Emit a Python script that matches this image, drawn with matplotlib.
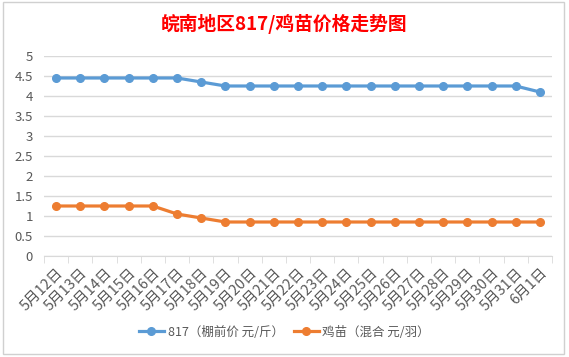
import numpy as np
import matplotlib.pyplot as plt
from matplotlib.patches import Rectangle

plt.rcParams['font.family'] = ['Noto Sans CJK SC', 'DejaVu Sans']

dates = ["5月12日", "5月13日", "5月14日", "5月15日", "5月16日", "5月17日", "5月18日",
         "5月19日", "5月20日", "5月21日", "5月22日", "5月23日", "5月24日", "5月25日",
         "5月26日", "5月27日", "5月28日", "5月29日", "5月30日", "5月31日", "6月1日"]
price_817 = [4.45, 4.45, 4.45, 4.45, 4.45, 4.45, 4.35, 4.25, 4.25, 4.25, 4.25,
             4.25, 4.25, 4.25, 4.25, 4.25, 4.25, 4.25, 4.25, 4.25, 4.1]
price_chick = [1.25, 1.25, 1.25, 1.25, 1.25, 1.05, 0.95, 0.85, 0.85, 0.85, 0.85,
               0.85, 0.85, 0.85, 0.85, 0.85, 0.85, 0.85, 0.85, 0.85, 0.85]
yticks = [0, 0.5, 1, 1.5, 2, 2.5, 3, 3.5, 4, 4.5, 5]

W, H = 569, 357
fig = plt.figure(figsize=(W / 100, H / 100), dpi=100)

# chart frame (excel chart border)
fig.patches.append(Rectangle((3 / W, 1 - 354 / H), 561 / W, 352 / H, transform=fig.transFigure,
                             fill=False, edgecolor='#d0d0d0', linewidth=1))

ax = fig.add_axes([44 / W, 1 - 256 / H, 508 / W, 200 / H])
x = np.arange(len(dates))
ax.plot(x, price_817, color='#5B9BD5', linewidth=2.3, marker='o', markersize=5.5,
        label='817（棚前价 元/斤）')
ax.plot(x, price_chick, color='#ED7D31', linewidth=2.3, marker='o', markersize=5.5,
        label='鸡苗（混合 元/羽）')

ax.set_xlim(-0.5, len(dates) - 0.5)
ax.set_ylim(0, 5)
ax.set_yticks(yticks)
ax.set_yticklabels([f"{v:g}" for v in yticks])
ax.grid(axis='y', color='#d9d9d9', linewidth=1)
ax.set_axisbelow(True)
for s in ['top', 'right', 'left']:
    ax.spines[s].set_visible(False)
ax.spines['bottom'].set_color('#d9d9d9')
ax.tick_params(axis='y', length=0, labelsize=9.5, labelcolor='#595959', pad=8)
ax.set_xticks(x)
ax.set_xticklabels(dates, rotation=45, ha='right', rotation_mode='anchor')
ax.tick_params(axis='x', which='major', length=0, labelsize=10.5, labelcolor='#595959', pad=7)
ax.set_xticks(np.arange(-0.5, len(dates), 1), minor=True)
ax.tick_params(axis='x', which='minor', length=5, color='#d9d9d9')

fig.text(0.5, 1 - 24 / H, '皖南地区817/鸡苗价格走势图', ha='center', va='center',
         fontsize=13.5, fontweight='bold', color='#FF0000')

fig.legend(loc='center', bbox_to_anchor=(0.5, 1 - 332 / H), ncol=2, frameon=False,
           fontsize=9, labelcolor='#595959', handlelength=2.0, handletextpad=0.3,
           columnspacing=0.8)

fig.savefig('out.png', dpi=100)
